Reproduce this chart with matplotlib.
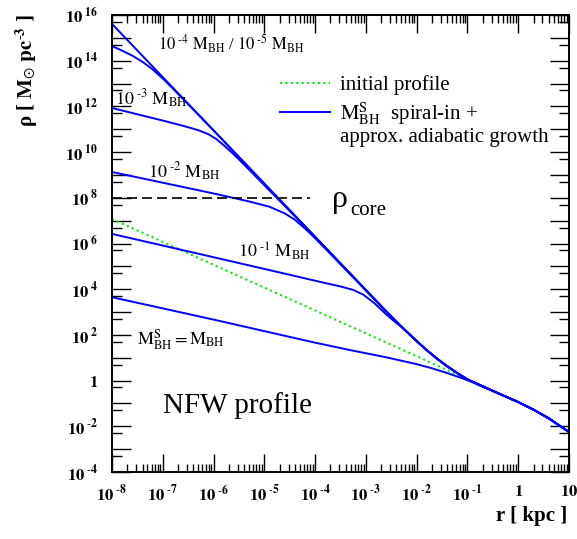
import numpy as np
import matplotlib
matplotlib.use('Agg')
import matplotlib.pyplot as plt
from matplotlib.ticker import LogLocator, FuncFormatter, NullFormatter

plt.rcParams['font.family'] = ['Liberation Serif', 'DejaVu Serif']
plt.rcParams['mathtext.fontset'] = 'stix'

# values, as log10(r / kpc) and log10(rho / Msun pc^-3)
tail_logr = [-0.5, 0.0, 0.3, 0.6, 1.0]
tail_logrho = [-0.45, -0.94, -1.27, -1.65, -2.25]

nfw_logr = [-8.0, -6.0, -4.0, -2.0, -1.5, -1.0]
nfw_logrho = [7.07, 5.07, 3.07, 1.07, 0.56, 0.05]

# 1e-5 M_BH (steepest, the envelope)
a_logr = [-8.0, -6.0, -4.0, -2.6, -2.3, -2.0, -1.8, -1.6, -1.4, -1.2, -1.0]
a_logrho = [15.61, 10.95, 6.29, 3.03, 2.36, 1.73, 1.33, 0.96, 0.63, 0.33, 0.05]

# 1e-4 M_BH
b_logr = [-8.0, -7.8, -7.6, -7.4, -7.2, -7.0, -6.8]
b_logrho = [14.64, 14.44, 14.22, 13.95, 13.62, 13.22, 12.78]

# 1e-3 M_BH
c_logr = [-8.0, -7.0, -6.6, -6.3, -6.1, -5.95, -5.8, -5.65, -5.5]
c_logrho = [11.93, 11.38, 11.15, 10.96, 10.78, 10.58, 10.30, 10.00, 9.68]

# 1e-2 M_BH
d_logr = [-8.0, -7.0, -6.0, -5.3, -4.9, -4.6, -4.4, -4.2, -4.0, -3.8]
d_logrho = [9.13, 8.66, 8.19, 7.84, 7.61, 7.32, 7.04, 6.66, 6.23, 5.78]

# 1e-1 M_BH
e_logr = [-8.0, -6.0, -4.5, -3.9, -3.5, -3.25, -3.05, -2.85, -2.6, -2.4]
e_logrho = [6.42, 5.40, 4.63, 4.32, 4.12, 3.97, 3.76, 3.42, 2.90, 2.52]

# M^S_BH = M_BH
f_logr = [-8.0, -6.0, -4.0, -3.3, -2.6, -2.0, -1.7, -1.4, -1.1, -0.9, -0.7]
f_logrho = [3.65, 2.67, 1.66, 1.33, 1.02, 0.72, 0.54, 0.33, 0.10, -0.07, -0.27]

rho_core = 1e8
core_logr_end = -4.1


def onto_envelope(lr, lrho):
    # an inner branch joins the envelope curve, then follows it out to 10 kpc
    env_r = a_logr + tail_logr
    env_rho = a_logrho + tail_logrho
    rest = [(x, y) for x, y in zip(env_r, env_rho) if x > lr[-1] + 0.05]
    r = np.array(list(lr) + [p[0] for p in rest])
    rho = np.array(list(lrho) + [p[1] for p in rest])
    return 10**r, 10**rho


fig = plt.figure(figsize=(5.77, 5.39), dpi=100)
ax = fig.add_axes([112/577, 67/539, 457/577, 457/539])

blue = '#0000ff'
green = '#00ee00'

nr = 10**np.array(nfw_logr + tail_logr)
nrho = 10**np.array(nfw_logrho + tail_logrho)
ax.plot(nr, nrho, color=green, lw=1.5, ls=(0, (1, 1.6)), label='initial profile')

first = True
for lr, lrho in [(a_logr, a_logrho), (b_logr, b_logrho), (c_logr, c_logrho),
                 (d_logr, d_logrho), (e_logr, e_logrho), (f_logr, f_logrho)]:
    r, rho = onto_envelope(lr, lrho)
    ax.plot(r, rho, color=blue, lw=1.4,
            label=r'$\mathrm{M}^{\mathrm{S}}_{\mathrm{BH}}$  spiral-in +' if first else None)
    first = False

ax.plot([1e-8, 10**core_logr_end], [rho_core, rho_core], color='black', lw=1.2, ls=(0, (6, 3)))

ax.set_xscale('log')
ax.set_yscale('log')
ax.set_xlim(1e-8, 10)
ax.set_ylim(1e-4, 1e16)


def tick_label(v, pos, every=1):
    e = int(round(np.log10(v)))
    if e % every:
        return ''
    if e == 0:
        return r'$\mathbf{1}$'
    if e == 1:
        return r'$\mathbf{10}$'
    s = str(e).replace('-', r'\text{-}')
    return r'$\mathbf{10}^{\ \mathbf{%s}}$' % s


ax.xaxis.set_major_locator(LogLocator(base=10, numticks=20))
ax.xaxis.set_minor_locator(LogLocator(base=10, subs=np.arange(2, 10), numticks=20))
ax.xaxis.set_major_formatter(FuncFormatter(tick_label))
ax.xaxis.set_minor_formatter(NullFormatter())
ax.yaxis.set_major_locator(LogLocator(base=10, numticks=30))
ax.yaxis.set_minor_locator(LogLocator(base=10, subs=[5.0], numticks=30))
ax.yaxis.set_major_formatter(FuncFormatter(lambda v, p: tick_label(v, p, 2)))
ax.yaxis.set_minor_formatter(NullFormatter())

ax.tick_params(which='both', direction='in', top=True, right=True, labelsize=12, width=1.0)
ax.tick_params(axis='x', which='major', length=13, pad=9)
ax.tick_params(axis='x', which='minor', length=6)
ax.tick_params(axis='y', which='major', length=14, pad=10)
ax.tick_params(axis='y', which='minor', length=7)
for s in ax.spines.values():
    s.set_linewidth(1.4)

fig.text(27/577, 1 - 14/539, r'ρ [ $\mathbf{M}_{\odot}$ $\mathbf{pc}^{\mathbf{\text{-}3}}$ ]', rotation=90,
         ha='center', va='top', fontsize=15, fontweight='bold')
fig.text(567/577, 1 - 516/539, 'r [ kpc ]', ha='right', va='center', fontsize=15, fontweight='bold')


def mass_label(k):
    return r'$10^{\ \text{-}%d}\ \mathrm{M}_{\mathrm{BH}}$' % k


ax.text(10**-7.09, 10**14.44, mass_label(4) + ' / ' + mass_label(5), fontsize=12, va='baseline')
ax.text(10**-7.94, 10**12.06, mass_label(3), fontsize=13, va='baseline')
ax.text(10**-7.29, 10**8.87, mass_label(2), fontsize=13, va='baseline')
ax.text(10**-5.52, 10**5.41, mass_label(1), fontsize=13, va='baseline')
ax.text(10**-7.51, 10**1.56, r'$\mathrm{M}^{\mathrm{S}}_{\mathrm{BH}} = \mathrm{M}_{\mathrm{BH}}$',
        fontsize=13, va='baseline')
ax.text(10**-7.0, 10**-1.42, 'NFW profile', fontsize=21, va='baseline')
ax.text(10**-3.67, 10**7.6, 'ρ', fontsize=23, va='baseline')
ax.text(10**-3.31, 10**7.25, 'core', fontsize=15, va='baseline')

leg = ax.legend(loc='upper left', bbox_to_anchor=(0.349, 0.886), frameon=False, fontsize=15,
                handlelength=2.4, handletextpad=0.5, labelspacing=0.25, borderaxespad=0)
ax.text(228/457, 0.722, 'approx. adiabatic growth', transform=ax.transAxes,
        fontsize=15, va='baseline')

fig.savefig('out.png', dpi=100)
